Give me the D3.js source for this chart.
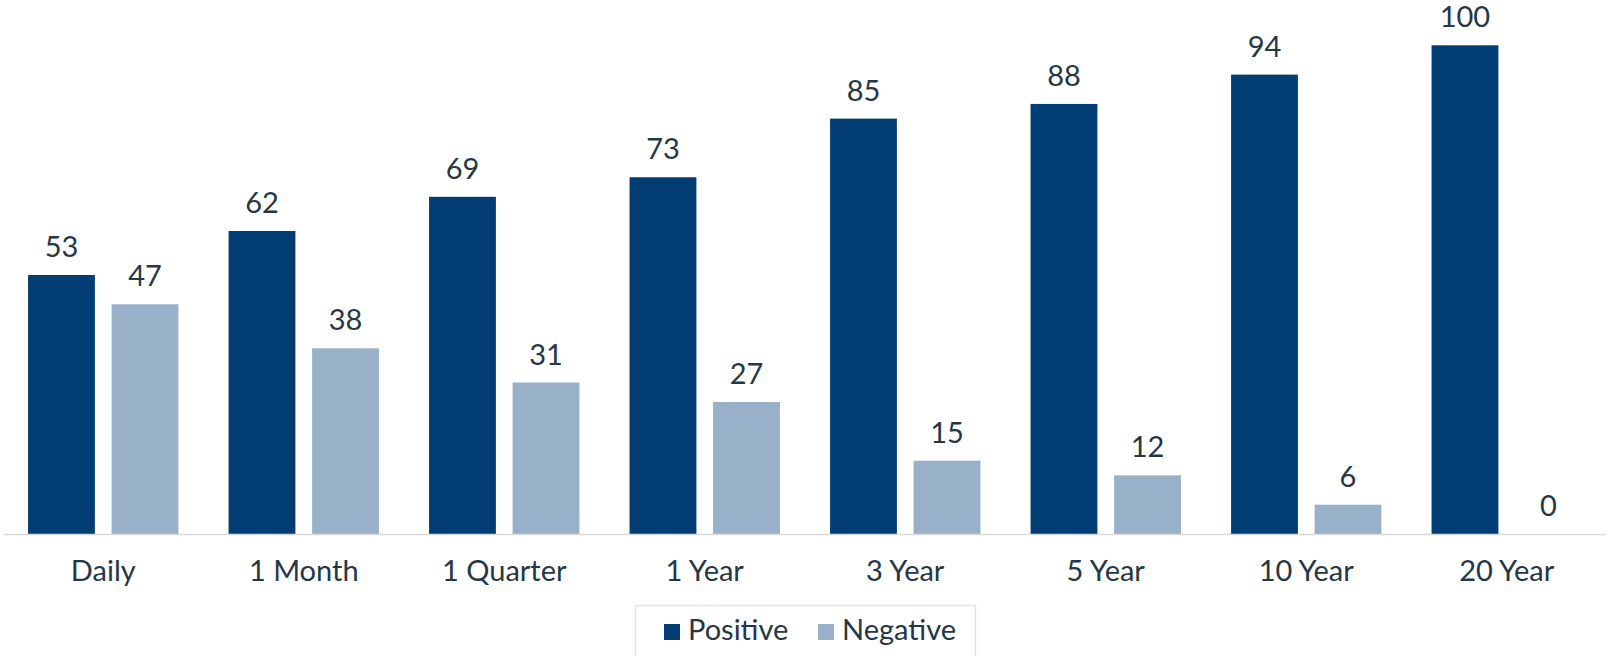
<!DOCTYPE html>
<html>
<head>
<meta charset="utf-8">
<script src="https://cdn.jsdelivr.net/npm/d3@7"></script>
<style>
  body { margin: 0; background: #fff; }
  svg { display: block; font-family: Lato, "Open Sans", sans-serif; }
</style>
</head>
<body>
<div id="chart"></div>
<script>
var categories = ["Daily", "1 Month", "1 Quarter", "1 Year", "3 Year", "5 Year", "10 Year", "20 Year"];
var positive = [53, 62, 69, 73, 85, 88, 94, 100];
var negative = [47, 38, 31, 27, 15, 12, 6, 0];
var seriesNames = ["Positive", "Negative"];
var seriesColors = ["#023e73", "#98b1c8"];

var width = 1606,
    height = 656,
    textColor = "#253746";

var rows = categories.map(function(c, i) {
    return { cat: c, values: [positive[i], negative[i]] };
});

var svg = d3.select("#chart").append("svg")
    .attr("width", width)
    .attr("height", height);

var x0 = d3.scaleBand().domain(categories).range([3, 1607]).paddingInner(0.25).paddingOuter(0.125);
var x1 = d3.scaleBand().domain([0, 1]).range([0, x0.bandwidth()]).paddingInner(0.2);
var y = d3.scaleLinear().domain([0, 100]).range([534, 45.3]);

// bars
var groups = svg.selectAll("g.cat").data(rows).enter().append("g")
    .attr("class", "cat")
    .attr("transform", function(d) { return "translate(" + x0(d.cat) + ",0)"; });

groups.selectAll("rect").data(function(d) { return d.values; }).enter().append("rect")
    .attr("x", function(d, i) { return x1(i); })
    .attr("y", function(d) { return y(d); })
    .attr("width", x1.bandwidth())
    .attr("height", function(d) { return y(0) - y(d); })
    .attr("fill", function(d, i) { return seriesColors[i]; });

groups.selectAll("text").data(function(d) { return d.values; }).enter().append("text")
    .attr("x", function(d, i) { return x1(i) + x1.bandwidth() / 2; })
    .attr("y", function(d) { return y(d) - 18; })
    .attr("text-anchor", "middle")
    .attr("font-size", 29)
    .attr("fill", textColor)
    .text(function(d) { return d; });

// axis
var xAxis = d3.axisBottom(d3.scaleBand().domain(categories).range([3, 1607])).tickSize(0).tickPadding(26);
var ax = svg.append("g").attr("transform", "translate(0," + y(0) + ")").call(xAxis);
ax.select(".domain").attr("stroke", "#d9d9d9").attr("stroke-width", 1.5);
ax.selectAll("text")
    .attr("font-size", 29)
    .attr("font-family", "Lato, sans-serif")
    .attr("fill", textColor);

// legend
var legend = svg.append("g");
legend.append("rect")
    .attr("x", 635.5).attr("y", 605.5)
    .attr("width", 340).attr("height", 60)
    .attr("fill", "#fff")
    .attr("stroke", "#e3e3e3")
    .attr("stroke-width", 1.5);

var legendX = [664, 818];
var items = legend.selectAll("g.item").data(seriesNames).enter().append("g")
    .attr("transform", function(d, i) { return "translate(" + legendX[i] + ",0)"; });
items.append("rect")
    .attr("x", 0).attr("y", 624)
    .attr("width", 16).attr("height", 16)
    .attr("fill", function(d, i) { return seriesColors[i]; });
items.append("text")
    .attr("x", 24).attr("y", 640)
    .attr("font-size", 29)
    .attr("fill", textColor)
    .text(function(d) { return d; });
</script>
</body>
</html>
